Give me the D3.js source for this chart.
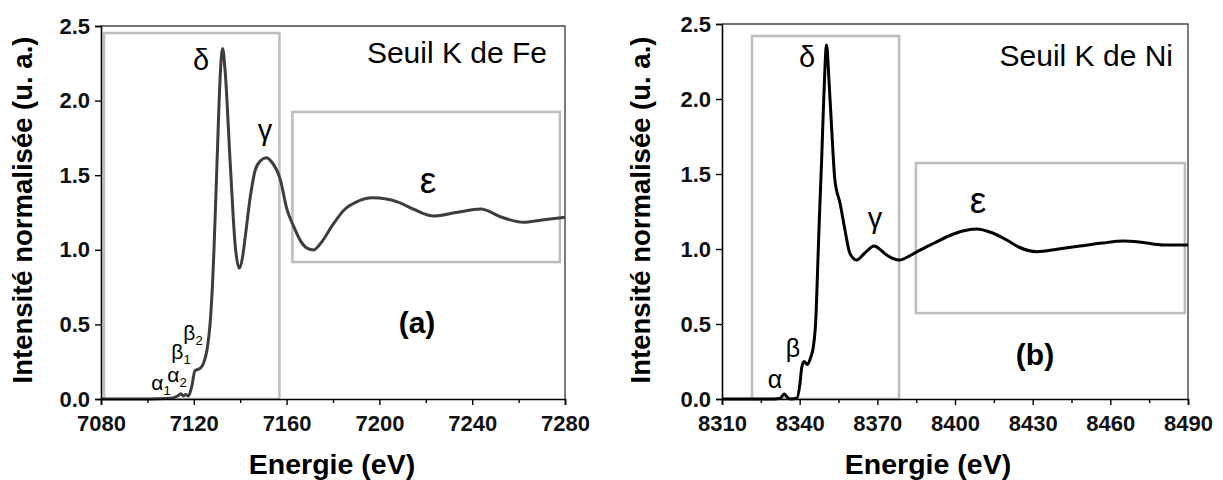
<!DOCTYPE html>
<html><head><meta charset="utf-8">
<script src="https://cdn.jsdelivr.net/npm/d3@7"></script>
<style>
html,body{margin:0;padding:0;background:#fff;}
text{font-family:"Liberation Sans",Arial,sans-serif;}
</style></head>
<body>
<svg id="chart" width="1223" height="480"></svg>
<script>
// ---------- DATA ----------
const feEnergy = [7080,7100,7110,7112,7113.5,7114.5,7115.5,7116.5,7117.7,7119.2,7120.5,7122,7123,7124.2,7125.7,7127,7128,7128.7,7130,7131.5,7132.4,7133.5,7135.7,7137.9,7139.6,7141,7142.2,7144.4,7146.5,7149,7151.3,7153.5,7157.3,7160,7163.1,7166,7169,7171.7,7175,7180,7185,7190,7197,7203,7208,7215,7223.5,7233,7243.7,7252.4,7262,7270,7280];
const feIntensity = [0,0,0.005,0.012,0.025,0.035,0.02,0.03,0.02,0.09,0.19,0.2,0.21,0.24,0.33,0.5,0.75,1.0,1.58,2.2,2.35,2.2,1.58,1.02,0.876,0.95,1.09,1.36,1.535,1.6,1.617,1.59,1.47,1.28,1.155,1.06,1.01,0.999,1.05,1.17,1.27,1.32,1.349,1.34,1.32,1.27,1.227,1.25,1.273,1.22,1.184,1.2,1.218];

const niEnergy = [8310,8330,8332.5,8334,8335.3,8336.5,8338.9,8340.1,8340.8,8341.7,8343,8344.3,8345.3,8346.3,8347,8347.6,8348.5,8349.3,8350.4,8351.4,8352.4,8353.6,8355.6,8357.5,8359.4,8362,8365,8368.8,8371.5,8373.6,8378.8,8382,8386.5,8392,8398,8403,8408.4,8414,8420,8425,8431.6,8440,8448.3,8457,8465,8472,8480.5,8490];
const niIntensity = [0,0,0.005,0.033,0.01,0,0.005,0.1,0.21,0.25,0.23,0.28,0.35,0.55,0.9,1.2,1.6,2.0,2.36,2.1,1.79,1.46,1.305,1.127,0.971,0.927,0.97,1.02,0.99,0.96,0.927,0.95,0.993,1.04,1.09,1.12,1.133,1.11,1.06,1.01,0.982,1.0,1.02,1.04,1.053,1.045,1.027,1.027];

const feTicks = [7080,7120,7160,7200,7240,7280];
const feMinor = [7100,7140,7180,7220,7260];
const niTicks = [8310,8340,8370,8400,8430,8460,8490];
const niMinor = [8325,8355,8385,8415,8445,8475];
const yTicks = [0.0,0.5,1.0,1.5,2.0,2.5];

// region boxes [E0, E1, I0, I1]
const feBoxes = [[7081.3,7156.9,0,2.453],[7162.5,7277.8,0.918,1.924]];
const niBoxes = [[8321.6,8378.4,0,2.42],[8384.9,8488.8,0.573,1.573]];

const svg = d3.select("#chart");

function panel(cfg){
  const x = d3.scaleLinear().domain(cfg.xDomain).range(cfg.xRange);
  const y = d3.scaleLinear().domain([0,2.5]).range(cfg.yRange);
  const g = svg.append("g");

  // gray boxes
  cfg.boxes.forEach(b=>{
    g.append("rect")
      .attr("x",x(b[0])).attr("y",y(b[3]))
      .attr("width",x(b[1])-x(b[0])).attr("height",y(b[2])-y(b[3]))
      .attr("fill","none").attr("stroke","#bdbdbd").attr("stroke-width",2.5);
  });

  // frame top/right
  g.append("path")
    .attr("d",`M${x.range()[0]},${y(2.5)}H${x.range()[1]}V${y(0)}`)
    .attr("fill","none").attr("stroke","#444").attr("stroke-width",1.4);

  // curve
  const data = cfg.energy.map((e,i)=>[e,cfg.intensity[i]]);
  g.append("path").datum(data)
    .attr("d",d3.line().x(d=>x(d[0])).y(d=>y(d[1])).curve(d3.curveMonotoneX))
    .attr("fill","none").attr("stroke",cfg.color).attr("stroke-width",3)
    .attr("stroke-linejoin","round");

  // x axis
  const xa = g.append("g").attr("transform",`translate(0,${y(0)})`)
    .call(d3.axisBottom(x).tickValues(cfg.ticks).tickFormat(d3.format("d")).tickSize(6).tickPadding(10));
  g.append("g").attr("transform",`translate(0,${y(0)})`)
    .call(d3.axisBottom(x).tickValues(cfg.minor).tickFormat("").tickSize(4))
    .call(a=>a.select(".domain").remove());
  // y axis
  const ya = g.append("g").attr("transform",`translate(${x.range()[0]},0)`)
    .call(d3.axisLeft(y).tickValues(yTicks).tickFormat(d3.format(".1f")).tickSize(6).tickPadding(5));
  [xa,ya].forEach(a=>{
    a.selectAll("text").attr("font-size",22).attr("font-weight","bold")
      .attr("font-family","'Liberation Sans',Arial,sans-serif").attr("fill","#111");
    a.select(".domain").attr("stroke-width",1.6);
  });
  g.selectAll(".tick line").attr("stroke-width",1.4);

  // axis titles
  g.append("text").attr("x",cfg.xTitleX).attr("y",474).attr("text-anchor","middle")
    .attr("font-size",28.5).attr("font-weight","bold").text("Energie (eV)");
  g.append("text").attr("transform",`translate(${cfg.yTitleX},210) rotate(-90)`)
    .attr("text-anchor","middle").attr("font-size",27.5).attr("font-weight","bold")
    .text("Intensité normalisée (u. a.)");

  // labels
  g.append("text").attr("x",cfg.seuil[0]).attr("y",cfg.seuil[1]).attr("text-anchor","end")
    .attr("font-size",30).text(cfg.seuilText);
  g.append("text").attr("x",cfg.tag[0]).attr("y",cfg.tag[1]).attr("text-anchor","middle")
    .attr("font-size",30).attr("font-weight","bold").text(cfg.tagText);
  cfg.greek.forEach(l=>{
    const t = g.append("text").attr("x",l.x).attr("y",l.y).attr("text-anchor","middle")
      .attr("font-size",l.s);
    t.append("tspan").text(l.t);
    if(l.sub){ t.append("tspan").attr("font-size",l.s*0.62).attr("dy",l.s*0.25).text(l.sub); }
  });
}

panel({
  xDomain:[7080,7280], xRange:[101,565], yRange:[399,26],
  energy:feEnergy, intensity:feIntensity, color:"#3d3d3d",
  ticks:feTicks, minor:feMinor, boxes:feBoxes,
  xTitleX:332, yTitleX:32,
  seuil:[547,63], seuilText:"Seuil K de Fe",
  tag:[417,333], tagText:"(a)",
  greek:[
    {t:"δ",x:201,y:70,s:29},
    {t:"γ",x:265,y:140,s:29},
    {t:"ε",x:428,y:193,s:37},
    {t:"α",x:161,y:390,s:21,sub:"1"},
    {t:"α",x:177,y:382,s:21,sub:"2"},
    {t:"β",x:181,y:359,s:21,sub:"1"},
    {t:"β",x:193,y:340,s:21,sub:"2"}
  ]
});

panel({
  xDomain:[8310,8490], xRange:[722,1188], yRange:[399,24],
  energy:niEnergy, intensity:niIntensity, color:"#000",
  ticks:niTicks, minor:niMinor, boxes:niBoxes,
  xTitleX:928, yTitleX:650,
  seuil:[1173,66], seuilText:"Seuil K de Ni",
  tag:[1035,365], tagText:"(b)",
  greek:[
    {t:"δ",x:807,y:67,s:29},
    {t:"γ",x:875,y:228,s:29},
    {t:"ε",x:978,y:213,s:37},
    {t:"α",x:775,y:388,s:25},
    {t:"β",x:793,y:357,s:25}
  ]
});
</script>
</body></html>
